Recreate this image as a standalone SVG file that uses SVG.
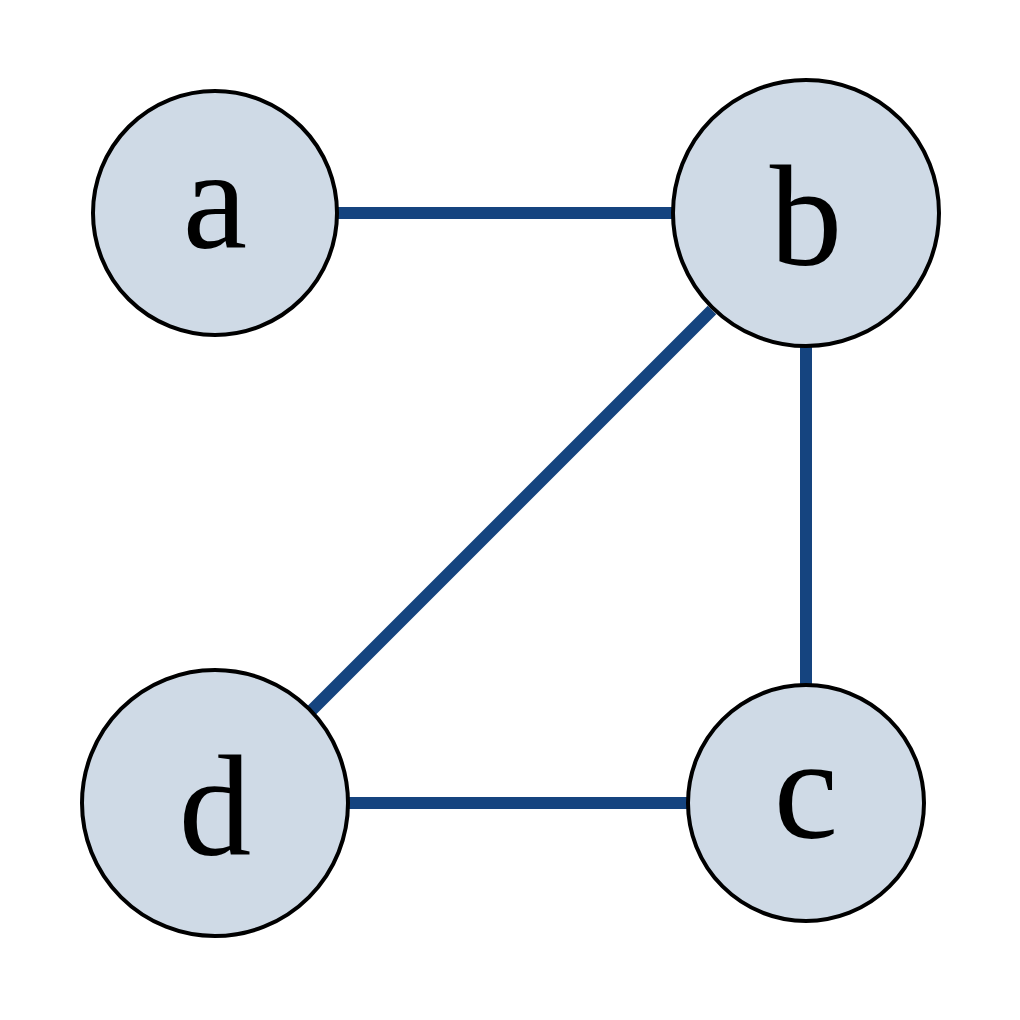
<svg xmlns="http://www.w3.org/2000/svg" width="1020" height="1020" viewBox="0 0 1020 1020">
<style>
.n{fill:#cfdae6;stroke:#000;stroke-width:4}
.t{font-family:"Liberation Serif",serif;font-size:145px;text-anchor:middle;fill:#000}
.e{stroke:#15447f;stroke-width:12;fill:none}
</style>
<rect width="1020" height="1020" fill="#fff"/>
<g id="edges">
<line class="e" x1="337" y1="213" x2="672" y2="213"/>
<line class="e" x1="806" y1="347" x2="806" y2="686"/>
<line class="e" x1="349" y1="803" x2="688" y2="803"/>
<line class="e" x1="712" y1="310" x2="310" y2="712"/>
</g>
<g id="a"><circle class="n" cx="215" cy="213" r="122"/><text class="t" x="215" y="248">a</text></g>
<g id="b"><circle class="n" cx="806" cy="213" r="133"/><text class="t" x="806" y="265">b</text></g>
<g id="c"><circle class="n" cx="806" cy="803" r="118"/><text class="t" x="806" y="838">c</text></g>
<g id="d"><circle class="n" cx="215" cy="803" r="133"/><text class="t" x="215" y="855">d</text></g>
</svg>
